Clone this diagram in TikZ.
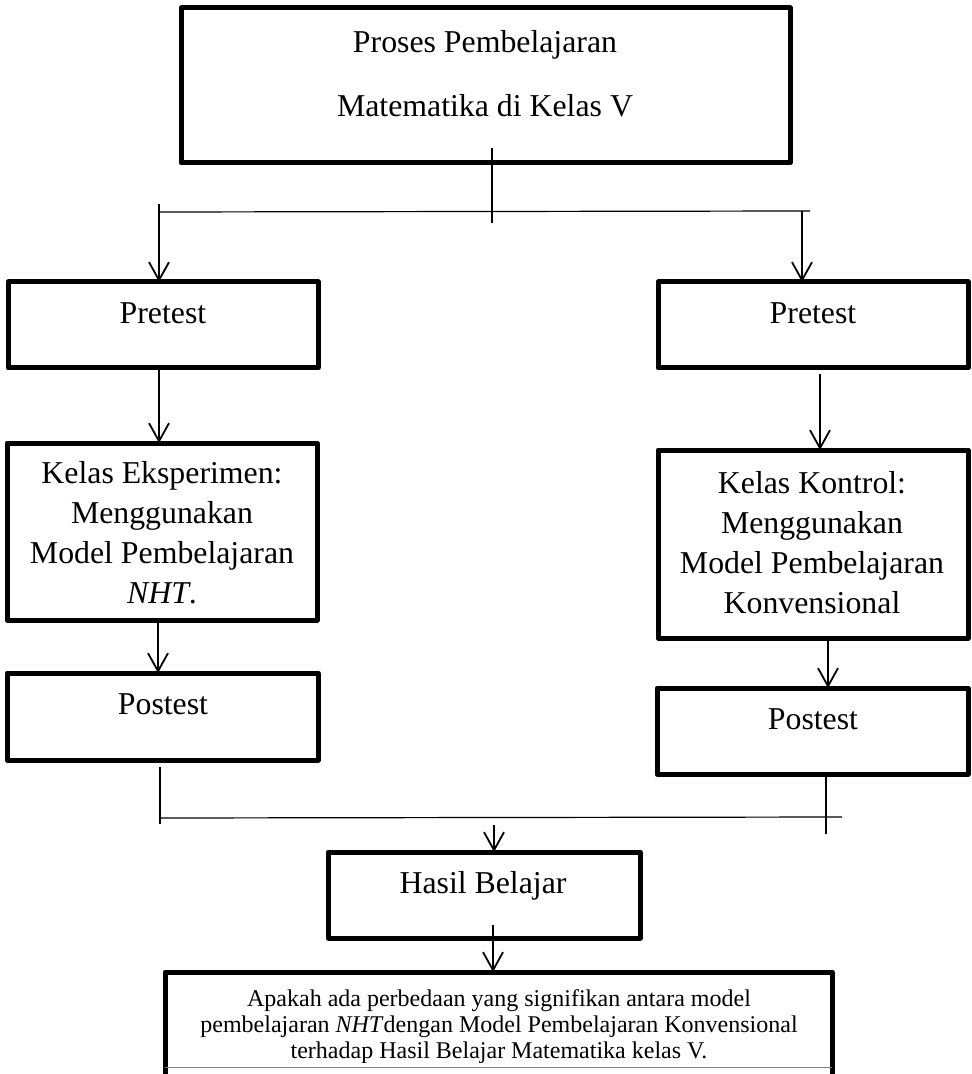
\documentclass[tikz,border=0pt]{standalone}
\usepackage{fontspec}
\setmainfont{Liberation Serif}
\usetikzlibrary{arrows.meta,calc}
\begin{document}
\begin{tikzpicture}[x=0.5pt,y=-0.5pt,
  box/.style={draw, line width=2.5pt, line join=round, inner sep=0pt, outer sep=0pt, anchor=north west},
  txt/.style={font=\fontsize{15.9}{20}\selectfont, inner sep=0pt, anchor=base, align=center},
  small/.style={font=\fontsize{12}{13.5}\selectfont, inner sep=0pt, anchor=base},
  conn/.style={line width=0.9pt},
  arr/.style={line width=0.9pt, -{Straight Barb[length=9pt,width=10pt]}},
  thinl/.style={line width=0.6pt}]
\useasboundingbox (0,0) rectangle (971,1074);
\clip (0,0) rectangle (971,1074);
% boxes
\node[box, minimum width=304.5pt, minimum height=77.5pt] (top) at (181,8) {};
\node[box, minimum width=155pt, minimum height=43pt] (pre1) at (8,282) {};
\node[box, minimum width=155pt, minimum height=43pt] (pre2) at (658,282) {};
\node[box, minimum width=155pt, minimum height=88.5pt] (eks) at (7,443) {};
\node[box, minimum width=155.5pt, minimum height=43.5pt] (post1) at (7,673) {};
\node[box, minimum width=155pt, minimum height=94pt] (kon) at (658,450) {};
\node[box, minimum width=155.5pt, minimum height=43pt] (post2) at (657,688) {};
\node[box, minimum width=156pt, minimum height=43pt] (hasil) at (328,852) {};
\node[box, minimum width=333.5pt, minimum height=70pt] (fin) at (165,972) {};
% texts
\node[txt] (topa) at (485,53) {Proses Pembelajaran};
\node[txt] (topb) at (485,117) {Matematika di Kelas V};
\node[txt] (pre1t) at (163,324) {Pretest};
\node[txt] (pre2t) at (813,324) {Pretest};
\node[txt] (ekst) at (162,603) {Kelas Eksperimen:\\Menggunakan\\Model Pembelajaran\\\textit{NHT}.};
\node[txt] (kont) at (812,613) {Kelas Kontrol:\\Menggunakan\\Model Pembelajaran\\Konvensional};
\node[txt] (post1t) at (163,714) {Postest};
\node[txt] (post2t) at (813,729) {Postest};
\node[txt] (hasilt) at (483,893) {Hasil Belajar};
\begin{scope}
\clip (165,972) rectangle (832,1062);
\node[small] (fina) at (499,1006) {Apakah ada perbedaan yang signifikan antara model};
\node[small] (finb) at (499,1032) {pembelajaran \textit{NHT}dengan Model Pembelajaran Konvensional};
\node[small] (finc) at (499,1058) {terhadap Hasil Belajar Matematika kelas V.};
\end{scope}
\draw[gray, line width=0.5pt] (165,1067) -- (832,1067);
% connectors top
\coordinate (s1) at (492,148);
\coordinate (s2) at (492,223);
\coordinate (hl) at (159,212);
\coordinate (hr) at (810,211);
\coordinate (la) at (159,204);
\coordinate (ra) at (802,211);
\draw[conn] (s1) -- (s2);
\draw[thinl] (hl) -- (hr);
\draw[arr] (la) -- (pre1.north -| la);
\draw[arr] (ra) -- (pre2.north -| ra);
\coordinate (c1) at (159,370);
\draw[arr] (c1) -- (eks.north -| c1);
\coordinate (c2) at (158,623);
\draw[arr] (c2) -- (post1.north -| c2);
\coordinate (c3) at (820,374);
\draw[arr] (c3) -- (kon.north -| c3);
\coordinate (c4) at (828,640);
\draw[arr] (c4) -- (post2.north -| c4);
% connectors bottom
\coordinate (b1) at (160,767);
\coordinate (b2) at (160,824);
\coordinate (bl) at (160,818);
\coordinate (br) at (842,817);
\coordinate (b3) at (826,777);
\coordinate (b4) at (826,834);
\draw[thinl] (b1) -- (b2);
\draw[thinl] (bl) -- (br);
\draw[thinl] (b3) -- (b4);
\coordinate (h1) at (494,825);
\draw[arr] (h1) -- (hasil.north -| h1);
\coordinate (h2) at (493,925);
\draw[arr] (h2) -- (fin.north -| h2);
\end{tikzpicture}
\end{document}
